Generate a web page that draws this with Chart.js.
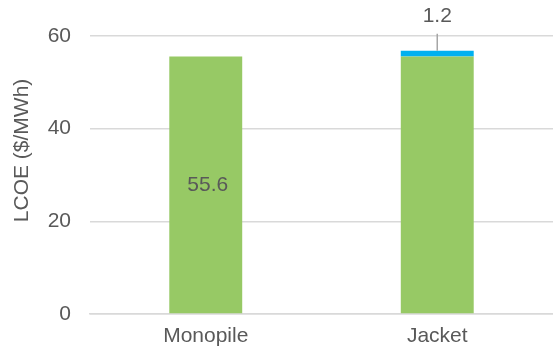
<!DOCTYPE html>
<html>
<head>
<meta charset="utf-8">
<script src="https://cdn.jsdelivr.net/npm/chart.js@4"></script>
<style>
  html, body { margin: 0; padding: 0; background: #fff; }
  #wrap { width: 553px; height: 349px; }
</style>
</head>
<body>
<div id="wrap"><canvas id="lcoeChart"></canvas></div>
<script>
// valores
const categorias = ['Monopile', 'Jacket'];
const base = [55.6, 55.6];
const extra = [null, 1.2];
const ticksY = [0, 20, 40, 60];
const tituloY = 'LCOE ($/MWh)';

const gris = '#595959';
const fuente = 'Liberation Sans, Arial, sans-serif';

// etiquetas de datos: 55.6 en medio de la barra, 1.2 arriba con linea guia
// y el titulo del eje Y (va un poco por encima del centro del eje)
const etiquetas = {
  id: 'etiquetas',
  afterDatasetsDraw(chart) {
    const ctx = chart.ctx;
    const y = chart.scales.y;
    ctx.save();
    ctx.font = '21px ' + fuente;
    ctx.fillStyle = gris;
    ctx.textAlign = 'center';
    ctx.textBaseline = 'middle';

    let barra = chart.getDatasetMeta(0).data[0];
    ctx.fillText(base[0].toFixed(1), barra.x + 2, y.getPixelForValue(base[0] / 2));

    let arriba = chart.getDatasetMeta(1).data[1];
    let tope = y.getPixelForValue(base[1] + extra[1]);
    ctx.fillText(extra[1].toFixed(1), arriba.x, tope - 35);
    ctx.strokeStyle = '#A6A6A6';
    ctx.lineWidth = 1.5;
    ctx.beginPath();
    ctx.moveTo(arriba.x, tope - 17);
    ctx.lineTo(arriba.x, tope);
    ctx.stroke();

    ctx.translate(22, y.getPixelForValue(35.3));
    ctx.rotate(-Math.PI / 2);
    ctx.fillText(tituloY, 0, 0);
    ctx.restore();
  }
};

let ctx = document.getElementById('lcoeChart').getContext('2d');
new Chart(ctx, {
  type: 'bar',
  data: {
    labels: categorias,
    datasets: [{
      label: 'Base',
      data: base,
      backgroundColor: '#97C965',
      categoryPercentage: 1,
      barPercentage: 0.315
    }, {
      label: 'Jacket extra',
      data: extra,
      backgroundColor: '#00B0F0',
      categoryPercentage: 1,
      barPercentage: 0.315
    }]
  },
  options: {
    responsive: true,
    maintainAspectRatio: false,
    animation: false,
    layout: { padding: { top: 36, right: 0, left: 0, bottom: 0 } },
    plugins: {
      legend: { display: false },
      tooltip: { enabled: false }
    },
    scales: {
      x: {
        stacked: true,
        grid: { display: false, drawTicks: false },
        border: { color: '#D9D9D9', width: 1.5 },
        ticks: { color: gris, font: { size: 21, family: fuente }, padding: 10 },
        afterFit(scale) { scale.height = 35; }
      },
      y: {
        stacked: true,
        min: 0,
        max: 60,
        afterBuildTicks(scale) { scale.ticks = ticksY.map(v => ({ value: v })); },
        grid: { color: '#D9D9D9', lineWidth: 1.5, drawTicks: false },
        border: { display: false },
        ticks: { color: gris, font: { size: 21, family: fuente }, padding: 19 },
        afterFit(scale) { scale.width = 90; }
      }
    }
  },
  plugins: [etiquetas]
});
</script>
</body>
</html>
